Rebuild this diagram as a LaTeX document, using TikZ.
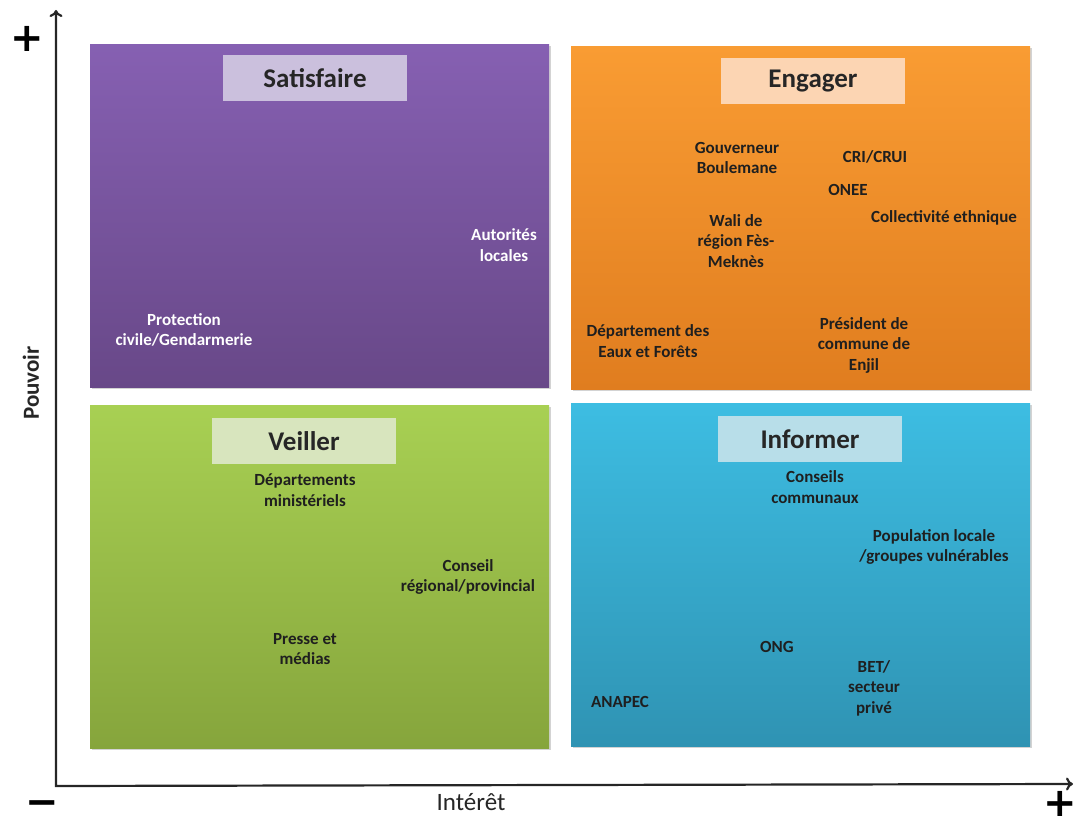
\documentclass[tikz,border=0pt]{standalone}
\usepackage{fontspec}
\setmainfont{Carlito}
\newfontfamily\signfont{DejaVu Sans}
\usetikzlibrary{positioning,shadows,arrows.meta}

\definecolor{satTop}{HTML}{8660B2}
\definecolor{satBot}{HTML}{684888}
\definecolor{satHead}{HTML}{CBC0DD}
\definecolor{engTop}{HTML}{F99C33}
\definecolor{engBot}{HTML}{E07D1F}
\definecolor{engHead}{HTML}{FCD5B3}
\definecolor{veiTop}{HTML}{A8D053}
\definecolor{veiBot}{HTML}{86A53C}
\definecolor{veiHead}{HTML}{D8E5BE}
\definecolor{infTop}{HTML}{3DBDE2}
\definecolor{infBot}{HTML}{2F93B3}
\definecolor{infHead}{HTML}{B8DEE9}

\begin{document}
\begin{tikzpicture}[
    x=1pt, y=-1pt,
    quadrant/.style={rectangle, anchor=north west, inner sep=0pt, minimum width=459pt, minimum height=343pt,
        drop shadow={opacity=0.35, shadow xshift=1.5pt, shadow yshift=-1.5pt}},
    head/.style={rectangle, inner sep=0pt, minimum width=184pt, minimum height=46pt,
        font=\fontsize{27}{29}\selectfont\bfseries, text=black!85},
    actor/.style={align=center, inner sep=1pt, font=\fontsize{17}{20.5}\selectfont\bfseries, text=black!88},
    whiteactor/.style={actor, text=white},
    axis/.style={{To[length=7pt,width=13pt]}-{To[length=7pt,width=13pt]}, line width=2.2pt, black!85},
    sign/.style={font=\signfont\fontsize{40}{40}\selectfont\bfseries, inner sep=0pt}
]
\useasboundingbox (0,0) rectangle (1076,818);

% quadrants
\node[quadrant, top color=satTop, bottom color=satBot] (sat) at (90,44) {};
\node[quadrant, top color=engTop, bottom color=engBot] (eng) at (571,46) {};
\node[quadrant, top color=veiTop, bottom color=veiBot] (vei) at (90,405) {};
\node[quadrant, top color=infTop, bottom color=infBot] (inf) at (571,403) {};

% headings
\node[head, fill=satHead] (satTitle) at (315,78) {Satisfaire};
\node[head, fill=engHead] (engTitle) at (813,81) {Engager};
\node[head, fill=veiHead] (veiTitle) at (304,441) {Veiller};
\node[head, fill=infHead] (infTitle) at (810,439) {Informer};

% Satisfaire
\node[whiteactor] (autorites) at (504,245) {Autorités\\locales};
\node[whiteactor] (protection) at (184,330) {Protection\\civile/Gendarmerie};

% Engager
\node[actor] (gouverneur) at (737,158) {Gouverneur\\Boulemane};
\node[actor] (cri) at (875,157) {CRI/CRUI};
\node[actor] (onee) at (848,190) {ONEE};
\node[actor] (collectivite) at (944,218) {Collectivité ethnique};
\node[actor] (wali) at (736,241) {Wali de\\région Fès-\\Meknès};
\node[actor] (eaux) at (648,341) {Département des\\Eaux et Forêts};
\node[actor] (president) at (864,345) {Président de\\commune de\\Enjil};

% Veiller
\node[actor] (ministeres) at (305,490) {Départements\\ministériels};
\node[actor] (conseil) at (468,577) {Conseil\\régional/provincial};
\node[actor] (presse) at (305,649) {Presse et\\médias};

% Informer
\node[actor] (communaux) at (815,487) {Conseils\\communaux};
\node[actor] (population) at (934,547) {Population locale\\/groupes vulnérables};
\node[actor] (ong) at (777,647) {ONG};
\node[actor] (bet) at (874,688) {BET/\\secteur\\privé};
\node[actor] (anapec) at (620,702) {ANAPEC};

% axes
\coordinate (origin) at (56,786);
\coordinate (ytip) at (56,10);
\coordinate (xtip) at (1073,784);
\draw[axis] (ytip) -- (origin) -- (xtip);

\node[sign] (plusY) at (27,39) {+};
\node[sign] (plusX) at (1060,804) {+};
\node[sign] (minus) at (42,808) {−};

\node[font=\fontsize{25}{27}\selectfont, text=black!85] (interet) at (471,802) {Intérêt};
\node[font=\fontsize{23}{25}\selectfont\bfseries, text=black!85, rotate=90] (pouvoir) at (31,383) {Pouvoir};

\end{tikzpicture}
\end{document}
